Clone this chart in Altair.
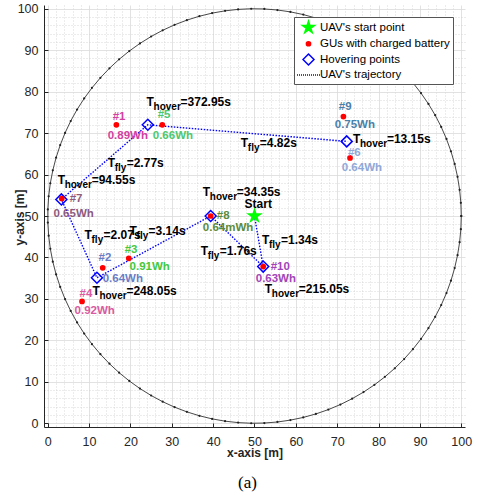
import altair as alt
import numpy as np
import pandas as pd

FONT = "Liberation Sans"
AXIS_DOMAIN = [-0.9, 100.9]
MAJOR = list(range(0, 101, 10))
MINOR = [v for v in range(0, 101, 2) if v % 10 != 0]

# ---- area boundary (circle) ----
circle_cx, circle_cy, circle_r, circle_n = 50, 50, 50, 100

# ---- UAV start ----
start_x = [50.0]
start_y = [50.0]

# ---- hovering points, in trajectory order after the start ----
hover_x = [52.1, 39.4, 11.9, 3.3, 24.2, 72.3]
hover_y = [37.8, 50.0, 35.1, 54.0, 72.0, 68.0]

# ---- ground users ----
gu_ids = ["#1", "#2", "#3", "#4", "#5", "#6", "#7", "#8", "#9", "#10"]
gu_x = [16.6, 13.3, 19.6, 8.3, 27.7, 73.1, 3.4, 39.4, 71.5, 52.1]
gu_y = [72.0, 37.5, 39.8, 29.4, 72.0, 64.0, 54.2, 50.0, 74.0, 37.8]
gu_energy = ["0.89Wh", "0.64Wh", "0.91Wh", "0.92Wh", "0.66Wh",
             "0.64Wh", "0.65Wh", "0.64mWh", "0.75Wh", "0.63Wh"]
gu_colors = ["#d23fa0", "#6a7cc6", "#44c83c", "#d95aa0", "#4ec86e",
             "#8fa8d8", "#8c5a7e", "#5b8c3c", "#4a80aa", "#a244b8"]
id_lx = [15.7, 12.3, 18.6, 7.7, 26.6, 72.6, 5.3, 40.9, 70.4, 53.9]
id_ly = [73.8, 39.8, 41.7, 31.3, 74.3, 65.3, 54.0, 49.9, 76.2, 37.6]
en_lx = [14.5, 13.3, 19.8, 6.5, 25.4, 71.1, 1.4, 37.5, 69.4, 50.3]
en_ly = [69.4, 34.7, 37.8, 27.2, 69.4, 61.5, 50.4, 47.0, 71.9, 34.9]

# ---- time annotations ----
hover_times = ["=372.95s", "=94.55s", "=13.15s", "=34.35s", "=215.05s", "=248.05s"]
hover_tx = [23.9, 2.4, 73.8, 37.5, 52.5, 10.8]
hover_ty = [77.6, 58.8, 68.5, 55.9, 32.5, 32.0]
fly_times = ["=2.77s", "=4.82s", "=1.34s", "=1.76s", "=2.07s", "=3.14s"]
fly_tx = [14.5, 46.7, 51.8, 37.0, 8.9, 19.8]
fly_ty = [62.7, 67.5, 44.1, 41.5, 45.3, 46.5]

start_label = ["Start"]
start_lx = [47.6]
start_ly = [53.0]

legend_types = ["UAV's start point", "GUs with charged battery",
                "Hovering points", "UAV's trajectory"]

# ---------------- frames ----------------
theta = np.linspace(0, 2 * np.pi, circle_n)
circle_df = pd.DataFrame({
    "x": circle_cx + circle_r * np.cos(theta),
    "y": circle_cy + circle_r * np.sin(theta),
    "i": np.arange(circle_n),
})

traj_df = pd.DataFrame({
    "x": start_x + hover_x,
    "y": start_y + hover_y,
    "order": list(range(len(hover_x) + 1)),
})

pts_df = pd.DataFrame({
    "x": hover_x + gu_x + start_x,
    "y": hover_y + gu_y + start_y,
    "type": [legend_types[2]] * len(hover_x) + [legend_types[1]] * len(gu_x) + [legend_types[0]],
})

gu_lab_df = pd.DataFrame({
    "x": id_lx + en_lx,
    "y": id_ly + en_ly,
    "text": gu_ids + gu_energy,
    "color": gu_colors + gu_colors,
})

time_df = pd.DataFrame({
    "x": hover_tx + fly_tx,
    "y": hover_ty + fly_ty,
    "T": ["T"] * (len(hover_tx) + len(fly_tx)),
    "kind": ["hover"] * len(hover_tx) + ["fly"] * len(fly_tx),
    "val": hover_times + fly_times,
})

start_df = pd.DataFrame({"x": start_lx, "y": start_ly, "text": start_label})

# ---------------- scales / axes ----------------
xs = alt.Scale(domain=AXIS_DOMAIN, nice=False, zero=False)
ys = alt.Scale(domain=AXIS_DOMAIN, nice=False, zero=False)

common_lab = dict(labelFont=FONT, labelFontSize=12.5, labelColor="#262626",
                  labelFlush=False, labelOverlap=False, format="d")

x_main = alt.Axis(orient="bottom", values=MAJOR, grid=True, gridColor="#dadada",
                  gridWidth=0.8, ticks=False, domain=True, domainColor="#262626",
                  domainWidth=1, labelPadding=8, title="x-axis [m]",
                  titleFont=FONT, titleFontSize=12, titleFontWeight="bold",
                  titleColor="#262626", titleBaseline="middle", titleY=25, **common_lab)
y_main = alt.Axis(orient="left", values=MAJOR, grid=True, gridColor="#dadada",
                  gridWidth=0.8, ticks=False, domain=True, domainColor="#262626",
                  domainWidth=1, labelPadding=6, title="y-axis [m]",
                  titleFont=FONT, titleFontSize=12, titleFontWeight="bold",
                  titleColor="#262626", titleBaseline="middle", titleX=-25,
                  titleY=212, **common_lab)
x_minor = alt.Axis(orient="bottom", values=MINOR, grid=True, gridColor="#cfcfcf",
                   gridDash=[1, 2], gridWidth=0.8, ticks=False, labels=False,
                   domain=False, title=None)
y_minor = alt.Axis(orient="left", values=MINOR, grid=True, gridColor="#cfcfcf",
                   gridDash=[1, 2], gridWidth=0.8, ticks=False, labels=False,
                   domain=False, title=None)
x_tick = alt.Axis(orient="bottom", values=MAJOR, grid=False, ticks=True, tickSize=4,
                  tickColor="#262626", tickWidth=1, labels=False, domain=False,
                  title=None, offset=-4)
y_tick = alt.Axis(orient="left", values=MAJOR, grid=False, ticks=True, tickSize=4,
                  tickColor="#262626", tickWidth=1, labels=False, domain=False,
                  title=None, offset=-4)

# ---------------- layers ----------------
circle_line = alt.Chart(circle_df).mark_line(color="#333333", strokeWidth=0.9).encode(
    x=alt.X("x:Q", scale=xs, axis=x_main),
    y=alt.Y("y:Q", scale=ys, axis=y_main),
    order="i:Q",
)
circle_dots = alt.Chart(circle_df).mark_point(filled=True, size=5, color="#222222", opacity=1).encode(
    x=alt.X("x:Q", scale=xs, axis=x_minor),
    y=alt.Y("y:Q", scale=ys, axis=y_minor),
)
traj = alt.Chart(traj_df).mark_line(color="#0000ff", strokeWidth=1.4, strokeDash=[1.5, 1.5]).encode(
    x=alt.X("x:Q", scale=xs, axis=x_tick),
    y=alt.Y("y:Q", scale=ys, axis=y_tick),
    order="order:Q",
)

star_path = ("M0,-1L0.2245,-0.309L0.951,-0.309L0.3633,0.118L0.5878,0.809L0,0.382"
             "L-0.5878,0.809L-0.3633,0.118L-0.951,-0.309L-0.2245,-0.309Z")
dot_line_path = "".join(f"M{a:.2f},0H{a + 0.2:.2f}" for a in np.arange(-2.3, 2.3, 0.4))

legend = alt.Legend(
    title=None, orient="none", legendX=250, legendY=12, fillColor="white",
    strokeColor="#555555", padding=3, symbolStrokeWidth=1.5,
    symbolOffset=4, labelOffset=4, rowPadding=1, labelFont=FONT, labelFontSize=11.5,
    labelColor="black", labelLimit=300,
)

points = alt.Chart(pts_df).mark_point(opacity=1, strokeWidth=1.5).encode(
    x=alt.X("x:Q", scale=xs, axis=None),
    y=alt.Y("y:Q", scale=ys, axis=None),
    shape=alt.Shape("type:N", scale=alt.Scale(domain=legend_types,
                    range=[star_path, "circle", "diamond", dot_line_path]), legend=legend),
    fill=alt.Fill("type:N", scale=alt.Scale(domain=legend_types,
                  range=["#00ff00", "#ff0000", "transparent", "transparent"]), legend=legend),
    stroke=alt.Stroke("type:N", scale=alt.Scale(domain=legend_types,
                      range=["#00ff00", "#ff0000", "#0000ff", "#0000ff"]), legend=legend),
    size=alt.Size("type:N", scale=alt.Scale(type="ordinal", domain=legend_types,
                  range=[160, 18, 121, 100]), legend=legend),
)

def txt(df, **kw):
    return alt.Chart(df).mark_text(align="left", baseline="middle", font=FONT,
                                   fontWeight="bold", **kw)

gu_text = txt(gu_lab_df, fontSize=11.5).encode(
    x=alt.X("x:Q", scale=xs, axis=None), y=alt.Y("y:Q", scale=ys, axis=None),
    text="text:N", color=alt.Color("color:N", scale=None),
)
start_text = txt(start_df, fontSize=12, color="black").encode(
    x=alt.X("x:Q", scale=xs, axis=None), y=alt.Y("y:Q", scale=ys, axis=None),
    text="text:N",
)
t_main = txt(time_df, fontSize=12, color="black").encode(
    x=alt.X("x:Q", scale=xs, axis=None), y=alt.Y("y:Q", scale=ys, axis=None),
    text="T:N",
)
t_sub = txt(time_df, fontSize=10, color="black", dx=7, dy=5).encode(
    x=alt.X("x:Q", scale=xs, axis=None), y=alt.Y("y:Q", scale=ys, axis=None),
    text="kind:N",
)
t_val_h = txt(time_df, fontSize=12, color="black", dx=34).transform_filter(
    alt.datum.kind == "hover").encode(
    x=alt.X("x:Q", scale=xs, axis=None), y=alt.Y("y:Q", scale=ys, axis=None),
    text="val:N",
)
t_val_f = txt(time_df, fontSize=12, color="black", dx=19).transform_filter(
    alt.datum.kind == "fly").encode(
    x=alt.X("x:Q", scale=xs, axis=None), y=alt.Y("y:Q", scale=ys, axis=None),
    text="val:N",
)

chart = alt.layer(
    circle_line, circle_dots, traj, points, gu_text, start_text,
    t_main, t_sub, t_val_h, t_val_f,
).resolve_axis(x="independent", y="independent").properties(
    width=421, height=422,
    autosize=alt.AutoSizeParams(type="none"),
    padding={"left": 44, "top": 5, "right": 13, "bottom": 71},
    title=alt.TitleParams(text="(a)", orient="bottom", font="Liberation Serif",
                          fontSize=17, fontWeight="normal", color="black",
                          offset=17, dx=-7),
).configure_view(stroke=None)

chart.save("out.html", embed_options={"renderer": "svg", "actions": False})
